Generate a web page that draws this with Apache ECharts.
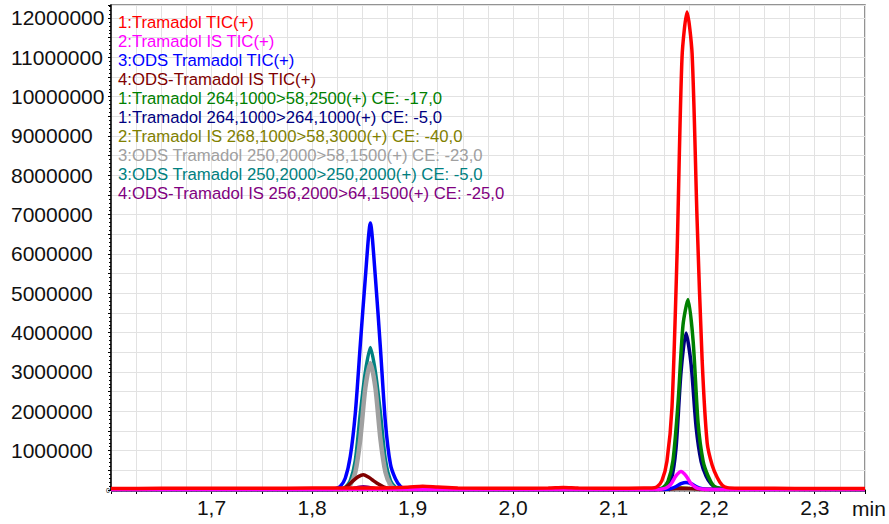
<!DOCTYPE html>
<html>
<head>
<meta charset="utf-8">
<title>Tramadol chromatogram</title>
<script src="https://cdn.jsdelivr.net/npm/echarts@6/dist/echarts.min.js"></script>
<style>
  html, body { margin: 0; padding: 0; background: #fff; }
  #chart { width: 889px; height: 524px; }
</style>
</head>
<body>
<div id="chart"></div>
<script>
// trace names, in legend order
const names = [
  '1:Tramadol TIC(+)',
  '2:Tramadol IS TIC(+)',
  '3:ODS Tramadol TIC(+)',
  '4:ODS-Tramadol IS TIC(+)',
  '1:Tramadol 264,1000>58,2500(+) CE: -17,0',
  '1:Tramadol 264,1000>264,1000(+) CE: -5,0',
  '2:Tramadol IS 268,1000>58,3000(+) CE: -40,0',
  '3:ODS Tramadol 250,2000>58,1500(+) CE: -23,0',
  '3:ODS Tramadol 250,2000>250,2000(+) CE: -5,0',
  '4:ODS-Tramadol IS 256,2000>64,1500(+) CE: -25,0'
];
const colors = ['#ff0000', '#ff00ff', '#0000ff', '#800000', '#008000',
  '#000080', '#808000', '#a0a0a0', '#008080', '#800080'];

// [retention time (min), intensity]
const tramadolTic = [
  [1.600, 40000], [1.650, 42000], [1.700, 45000], [1.750, 45000], [1.800, 48000],
  [1.840, 50000], [1.870, 52000], [1.895, 70000], [1.910, 95000], [1.925, 75000],
  [1.945, 52000], [2.000, 45000], [2.035, 48000], [2.050, 65000], [2.065, 48000],
  [2.100, 45000], [2.130, 48000], [2.138, 50000], [2.143, 80000], [2.148, 240000],
  [2.153, 730000], [2.158, 2100000], [2.163, 5950000], [2.168, 11000000],
  [2.173, 12150000], [2.178, 11100000], [2.183, 6850000], [2.188, 3300000],
  [2.193, 1200000], [2.198, 630000], [2.203, 320000], [2.208, 120000],
  [2.213, 60000], [2.225, 45000], [2.260, 42000], [2.300, 40000], [2.350, 40000]
];
const tramadolIsTic = [
  [1.600, 10000], [1.850, 12000], [2.000, 10000], [2.142, 12000], [2.147, 20000],
  [2.152, 50000], [2.157, 150000], [2.162, 360000], [2.167, 470000], [2.172, 360000],
  [2.177, 160000], [2.182, 60000], [2.187, 25000], [2.195, 12000], [2.350, 10000]
];
const odsTic = [
  [1.600, 15000], [1.820, 15000], [1.823, 30000], [1.828, 90000], [1.833, 300000],
  [1.838, 850000], [1.843, 1950000], [1.848, 3700000], [1.853, 5400000],
  [1.858, 6790000], [1.863, 5400000], [1.868, 3600000], [1.873, 1700000],
  [1.878, 650000], [1.883, 280000], [1.888, 90000], [1.893, 30000], [1.905, 15000],
  [2.150, 15000], [2.157, 40000], [2.162, 90000], [2.167, 160000], [2.172, 190000],
  [2.177, 160000], [2.182, 90000], [2.187, 40000], [2.194, 15000], [2.350, 12000]
];
const odsIsTic = [
  [1.600, 12000], [1.826, 15000], [1.831, 30000], [1.836, 120000], [1.841, 240000],
  [1.846, 340000], [1.851, 390000], [1.856, 330000], [1.861, 240000], [1.866, 150000],
  [1.871, 80000], [1.876, 40000], [1.881, 20000], [1.900, 12000], [2.150, 15000],
  [2.162, 35000], [2.175, 38000], [2.190, 15000], [2.350, 12000]
];
const tram264to58 = [
  [1.600, 15000], [2.140, 15000], [2.144, 20000], [2.149, 60000], [2.154, 220000],
  [2.159, 750000], [2.164, 2200000], [2.169, 4200000], [2.174, 4840000],
  [2.179, 3800000], [2.184, 1700000], [2.189, 730000], [2.194, 350000],
  [2.199, 120000], [2.204, 50000], [2.215, 20000], [2.350, 15000]
];
const tram264to264 = [
  [1.600, 15000], [2.142, 15000], [2.147, 30000], [2.152, 60000], [2.157, 220000],
  [2.162, 1050000], [2.167, 3000000], [2.172, 3990000], [2.177, 3200000],
  [2.182, 1600000], [2.187, 720000], [2.192, 350000], [2.197, 150000],
  [2.202, 60000], [2.212, 20000], [2.350, 15000]
];
const tramIs268to58 = [
  [1.600, 10000], [2.150, 10000], [2.160, 40000], [2.167, 60000], [2.175, 40000],
  [2.185, 10000], [2.350, 10000]
];
const ods250to58 = [
  [1.600, 12000], [1.830, 12000], [1.833, 30000], [1.838, 130000], [1.843, 450000],
  [1.848, 1300000], [1.853, 2600000], [1.858, 3230000], [1.863, 2600000],
  [1.868, 1300000], [1.873, 450000], [1.878, 130000], [1.883, 30000],
  [1.890, 12000], [2.350, 12000]
];
const ods250to250 = [
  [1.600, 12000], [1.825, 12000], [1.828, 20000], [1.833, 70000], [1.838, 240000],
  [1.843, 750000], [1.848, 1950000], [1.853, 3000000], [1.858, 3620000],
  [1.863, 3000000], [1.868, 1950000], [1.873, 750000], [1.878, 240000],
  [1.883, 70000], [1.888, 20000], [1.895, 12000], [2.350, 12000]
];
const odsIs256to64 = [
  [1.600, 10000], [1.835, 10000], [1.843, 50000], [1.851, 80000], [1.860, 50000],
  [1.870, 10000], [2.350, 10000]
];

const seriesData = [tramadolTic, tramadolIsTic, odsTic, odsIsTic, tram264to58,
  tram264to264, tramIs268to58, ods250to58, ods250to250, odsIs256to64];
// drawing order, bottom to top
const drawOrder = [6, 9, 8, 7, 5, 4, 3, 2, 1, 0];

const font = 'Liberation Sans, Arial, sans-serif';

const chart = echarts.init(document.getElementById('chart'), null, { renderer: 'svg' });

const series = drawOrder.map(function (i) {
  return {
    name: names[i],
    type: 'line',
    data: seriesData[i],
    smooth: 0.25,
    showSymbol: false,
    lineStyle: { color: colors[i], width: i === 7 ? 4.5 : 3.5 },
    itemStyle: { color: colors[i] },
    emphasis: { disabled: true }
  };
});

const options = {
  animation: false,
  backgroundColor: '#fff',
  grid: {
    left: 111, right: 24, top: 5, bottom: 34,
    show: true, borderColor: '#707070', borderWidth: 1.5
  },
  legend: {
    orient: 'vertical',
    left: 112,
    top: 13,
    padding: 0,
    itemGap: 0,
    itemWidth: 0,
    itemHeight: 0,
    itemStyle: { opacity: 0 },
    lineStyle: { opacity: 0 },
    textStyle: { fontFamily: font, fontSize: 16.7, lineHeight: 19 },
    data: names.map(function (n, i) {
      return { name: n, textStyle: { color: colors[i] } };
    })
  },
  xAxis: {
    type: 'value',
    min: 1.6,
    max: 2.35,
    interval: 0.025,
    axisLine: { lineStyle: { color: '#000', width: 1.5 } },
    axisTick: { show: true, length: 4, lineStyle: { color: '#000' } },
    minorTick: { show: true, splitNumber: 5, length: 2, lineStyle: { color: '#000' } },
    splitLine: { show: true, lineStyle: { color: '#e2e2e2', width: 1 } },
    axisLabel: {
      interval: 0,
      margin: 7,
      color: '#111',
      fontFamily: font,
      fontSize: 21,
      formatter: function (v) {
        const r = Math.round(v * 10);
        if (Math.abs(v * 10 - r) < 1e-6 && r > 16) {
          return (r / 10).toFixed(1).replace('.', ',');
        }
        return '';
      }
    }
  },
  yAxis: {
    type: 'value',
    min: 0,
    max: 12330000,
    interval: 500000,
    axisLine: { show: true, lineStyle: { color: '#000', width: 1.5 } },
    axisTick: { show: true, length: 3, lineStyle: { color: '#000' } },
    minorTick: { show: true, splitNumber: 5, length: 2, lineStyle: { color: '#000' } },
    splitLine: { show: true, lineStyle: { color: '#e2e2e2', width: 1 } },
    axisLabel: {
      align: 'left',
      margin: 100,
      color: '#111',
      fontFamily: font,
      fontSize: 21,
      formatter: function (v) {
        if (v === 0) return '{z|0}';
        if (v % 1000000 === 0) return String(v);
        return '';
      },
      rich: {
        z: { fontSize: 7, fontFamily: font, color: '#111', padding: [0, 0, 0, 95] }
      }
    }
  },
  graphic: [{
    type: 'text',
    left: 852,
    top: 498,
    style: { text: 'min', fontSize: 21, fontFamily: font, fill: '#111' }
  }],
  series: series
};

chart.setOption(options);
</script>
</body>
</html>
